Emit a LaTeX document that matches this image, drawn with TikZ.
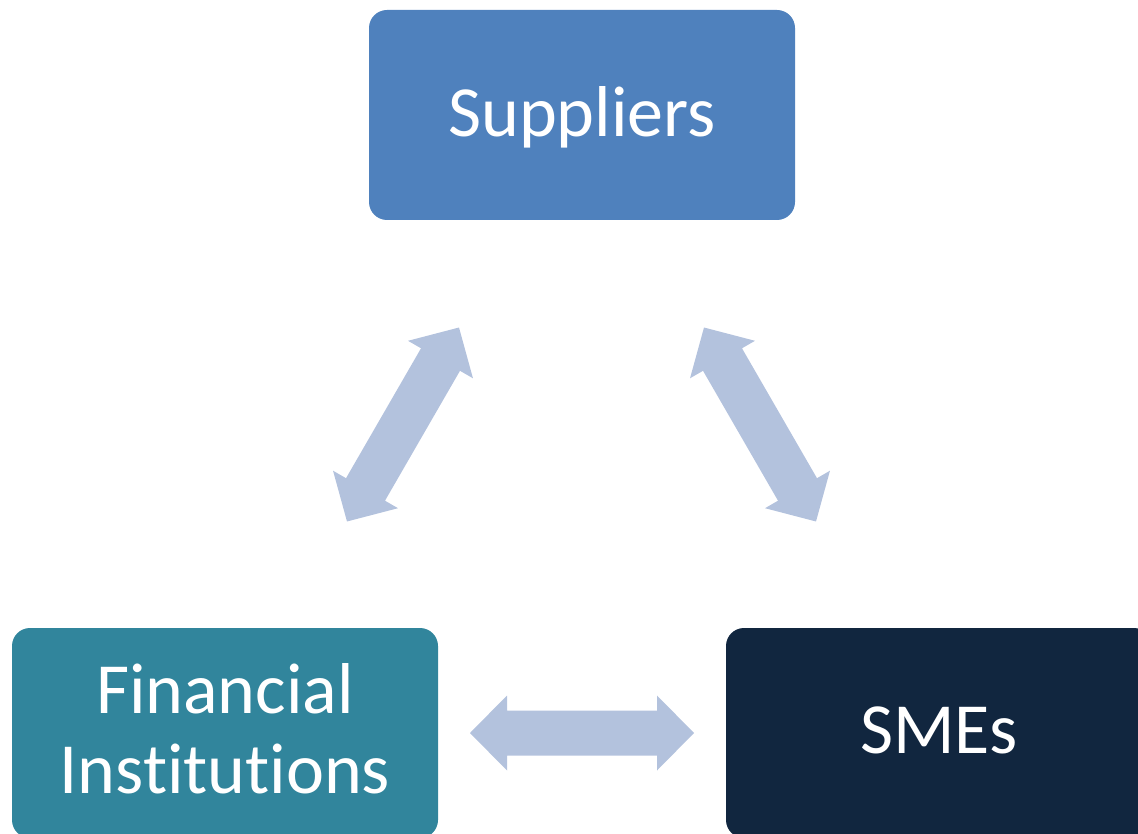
\documentclass[tikz,border=0pt]{standalone}
\usepackage{fontspec}
\setmainfont{Carlito}[Ligatures=NoCommon]
\definecolor{supc}{HTML}{4F81BD}
\definecolor{finc}{HTML}{31859C}
\definecolor{smec}{HTML}{11263F}
\definecolor{arrc}{HTML}{B3C2DD}
\tikzset{
  card/.style={rectangle, rounded corners=18pt, minimum width=426pt, minimum height=210pt,
    inner sep=0pt, text=white, align=center, font=\fontsize{72}{80}\selectfont},
  blockarrow/.style={fill=arrc, draw=none}
}
\newcommand{\dblarrow}[3]{%
  \begin{scope}[shift={(#1,#2)}, rotate=#3]
    \fill[blockarrow] (-112,0) -- (-75,37.5) -- (-75,22.5) -- (75,22.5) -- (75,37.5)
      -- (112,0) -- (75,-37.5) -- (75,-22.5) -- (-75,-22.5) -- (-75,-37.5) -- cycle;
  \end{scope}}
\begin{document}
\begin{tikzpicture}[x=1pt,y=-1pt]
  \useasboundingbox (0,0) rectangle (1138,834);
  \clip (0,0) rectangle (1138,834);
  \node[card, fill=supc] (sup) at (582,115) {};
  \node[text=white, font=\fontsize{72}{80}\selectfont, anchor=base] (suptxt) at (582,137) {Suppliers};
  \node[card, fill=finc] (fin) at (225,733) {};
  \node[text=white, font=\fontsize{72}{80}\selectfont, anchor=base] (fintxt1) at (225,713) {Financial};
  \node[text=white, font=\fontsize{72}{80}\selectfont, anchor=base] (fintxt2) at (225,793) {Institutions};
  \node[card, fill=smec] (sme) at (939,733) {};
  \node[text=white, font=\fontsize{72}{80}\selectfont, anchor=base] (smetxt) at (939,753) {SMEs};
  \dblarrow{403}{424.5}{60}
  \dblarrow{760}{424.5}{-60}
  \dblarrow{582}{733}{0}
\end{tikzpicture}
\end{document}
